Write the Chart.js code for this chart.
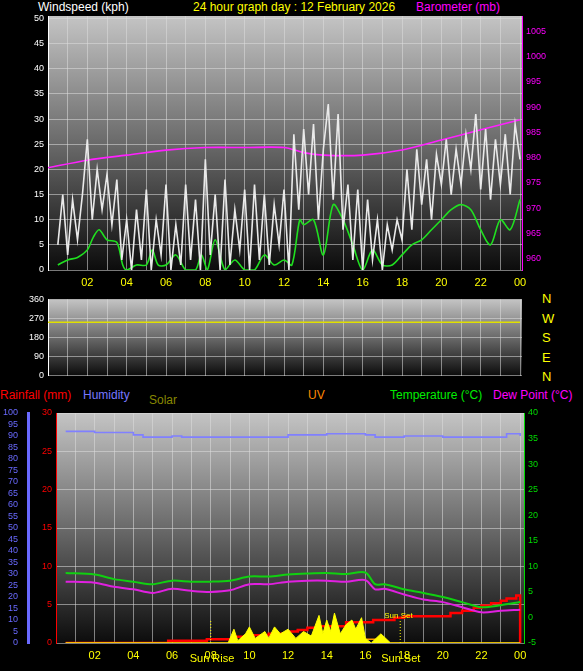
<!DOCTYPE html>
<html><head><meta charset="utf-8">
<script src="https://cdn.jsdelivr.net/npm/chart.js@4"></script>
<style>
body{margin:0;background:#000;width:583px;height:671px;overflow:hidden;font-family:"Liberation Sans",Arial,sans-serif;position:relative}
canvas{position:absolute;left:0}
.t{position:absolute;white-space:nowrap;font-size:12px}
</style></head><body>
<div class="t" style="left:38px;top:0px;color:#fff">Windspeed (kph)</div>
<div class="t" style="left:193px;top:0px;color:#ff0">24 hour graph day : 12 February 2026</div>
<div class="t" style="left:416px;top:0px;color:#f0f">Barometer (mb)</div>
<div class="t" style="left:542px;top:289px;color:#ff0;font-size:13px;line-height:19.5px">N<br>W<br>S<br>E<br>N</div>
<div class="t" style="left:0px;top:388px;color:#f00">Rainfall (mm)</div>
<div class="t" style="left:83px;top:388px;color:#77f">Humidity</div>
<div class="t" style="left:149px;top:393px;color:#880">Solar</div>
<div class="t" style="left:308px;top:388px;color:#f80">UV</div>
<div class="t" style="left:390px;top:388px;color:#0e0">Temperature (°C)</div>
<div class="t" style="left:493px;top:388px;color:#f0f">Dew Point (°C)</div>
<canvas id="c1" width="583" height="298" style="top:0"></canvas>
<canvas id="c2" width="583" height="95" style="top:290px"></canvas>
<canvas id="c3" width="583" height="286" style="top:385px"></canvas>
<script>
const hourTicks=[1,2,3,4,5,6,7,8,9,10,11,12,13,14,15,16,17,18,19,20,21,22,23,24];
const windHours=[0.5,1,1.5,2,2.3,2.6,3,3.5,3.8,4,4.5,5,5.3,5.6,6,6.5,7,7.5,7.8,8.1,8.5,9,9.5,10,10.5,11,11.5,12,12.4,12.8,13,13.5,14,14.5,15,15.5,16,16.5,17,17.5,18,18.5,19,19.5,20,20.5,21,21.5,22,22.5,23,23.5,24];
const windAvg=[1,2,2.5,4,6.5,8,6,5.5,1,0,1,1,4,1,1,3,0,0,3,0,6,0,2,0,0,3,1,2,1,10,9,10,3,13,10,5,0,4,1,1,3,5,6,8,10,12,13,12,8,5,10,8,14];
const gustStart=0.5, gustStep=0.25;
const windGust=[5,15,3,14,6,15, 26,10,20,12,19,9, 18,2,10,
0,12,2,16,0,10,3,17,0,9,1,17,2,14,0,22,3,15,0,18,1,12,4,16,0,17,2,15,1,13,5,16,0,
27,12,28,15,29,10,24,33,14,31, 8,17,2,16,0,14,2,10,0, 9,4,10,6, 20,8,24,13,22,10,23,17,
26,15,24,17,27,20,31,16,28,14,26,17,27,15,29,22];
const baroHours=[0,2,4,6,8,10,12,13,14,16,18,20,22,24];
const baro=[978,979.5,980.5,981.5,982,982,982,981,980.5,980.5,981.5,983.5,985.5,987.5];
const dirHours=[0,24];
const windDir=[252,252];
const tempHours=[0.5,2,3,4,5,6,7,8,9,10,11,12,13,14,15,16,16.5,17,18,19,20,21,22,23,24];
const temp=[8.7,8.4,7.5,7,6.5,7.2,7,7,7.2,8,8,8.4,8.6,8.7,8.5,8.8,6.5,6.5,5.5,4.8,4,3,2,2.4,3];
const dew=[7,6.8,6,5.5,4.8,5.6,5.2,5,5.3,6.5,6.5,7,7.2,7.2,7,7.3,5.5,5.6,4.5,3.5,3,2,1,1.3,1.5];
const humHours=[0.5,2,4,4.5,6,6.5,8,10,12,14,16,16.5,18,20,22,23.3,24];
const humidity=[92,91.5,90.5,89.5,90,89.5,89.5,89.5,90.5,91,90.5,89.5,90,89.5,89.5,91,90];
const rainHours=[0.5,5.8,7.8,9.3,10,11,12,12.5,13,13.5,15,16.4,17.5,18,20.4,21,21.6,22,22.5,23,23.3,23.8,23.99,24];
const rain=[0,0.3,0.5,0.8,1.0,1.2,1.5,1.7,2.0,2.2,2.7,3.0,3.3,3.5,3.9,4.2,4.6,4.9,5.2,5.5,5.8,6.2,6.2,0];
const solarHours=[0.5,8.9,9.2,9.4,9.8,10,10.3,10.8,11,11.3,11.6,12,12.4,12.8,13.2,13.6,13.8,14,14.2,14.4,14.7,15,15.3,15.5,15.8,16,16.3,16.8,17.3,24];
const solar=[0,0,60,10,40,70,20,50,20,70,40,60,20,50,30,120,40,100,50,130,40,80,100,60,110,20,0,40,0,0];
const uvHours=[0.5,10.5,11,11.5,12,12.5,13,13.5,14,14.5,15,15.5,16,16.5,24];
const uv=[0,0,0.5,0.5,0.3,0.5,0.5,0.3,0.5,0.3,0.5,0.5,0.5,0,0];
const sunRise=8.0, sunSet=17.8;

const fmtH=v=>v%2===0?String(v%24).padStart(2,'0'):'';
const F={family:'"Liberation Sans",Arial,sans-serif',size:9};
const bg={id:'bg',beforeDraw(c){const a=c.chartArea,x=c.ctx;const g=x.createLinearGradient(0,a.top,0,a.bottom);g.addColorStop(0,'#c4c4c4');g.addColorStop(0.5,'#6a6a6a');g.addColorStop(1,'#0c0c0c');x.fillStyle=g;x.fillRect(a.left,a.top,a.right-a.left,a.bottom-a.top);}};
const grid={color:'rgba(220,220,220,0.55)',borderDash:[1,2],drawTicks:false};
function xs(min,max,h,show){return {type:'linear',min,max,afterBuildTicks(s){s.ticks=hourTicks.map(v=>({value:v}))},afterFit(s){s.height=h},
 ticks:{display:show,callback:fmtH,color:'#ff0',font:{...F,size:11},autoSkip:false,maxRotation:0,padding:6},grid,border:{display:false}};}
function ys(pos,min,max,list,w,col,extra){return Object.assign({position:pos,min,max,afterBuildTicks(s){s.ticks=list.map(v=>({value:v}))},afterFit(s){s.width=w},
 ticks:{color:col,font:F,padding:4,autoSkip:false,callback:v=>String(v)},grid:{...grid,drawOnChartArea:pos==='left'},border:{display:true,color:col}},extra||{});}
const seq=(a,b,s)=>{const r=[];for(let v=a;v<=b+1e-9;v+=s)r.push(v);return r;};
const pts=(xa,ya)=>xa.map((x,i)=>({x,y:ya[i]}));
const base={responsive:false,animation:false,plugins:{legend:{display:false},tooltip:{enabled:false}},elements:{point:{radius:0}}};

new Chart(document.getElementById('c1'),{type:'line',data:{datasets:[
 {data:windGust.map((v,i)=>({x:gustStart+i*gustStep,y:v})),borderColor:'#eaeaea',borderWidth:1.6,yAxisID:'y'},
 {data:pts(windHours,windAvg),borderColor:'#20e020',borderWidth:1.6,tension:0.3,yAxisID:'y'},
 {data:pts(baroHours,baro),borderColor:'#ff20ff',borderWidth:1.6,tension:0.3,yAxisID:'y2'}]},
 options:{...base,layout:{padding:{top:16}},scales:{x:xs(0,24.1,28,true),
  y:ys('left',0,50.5,seq(0,50,5),48,'#fff'),
  y2:ys('right',957.8,1008,seq(960,1005,5),61,'#f0f')}},plugins:[bg]});

new Chart(document.getElementById('c2'),{type:'line',data:{datasets:[
 {data:pts(dirHours,windDir),borderColor:'#e0e000',borderWidth:1.5}]},
 options:{...base,layout:{padding:{top:7,bottom:7}},scales:{x:Object.assign(xs(0,24.1,0,false),{display:true}),
  y:ys('left',0,360,[0,90,180,270,360],48,'#fff'),
  y2:ys('right',0,360,[],61,'#000',{ticks:{display:false},border:{display:false}})}},plugins:[bg]});

const sun={id:'sun',afterDatasetsDraw(c){const x=c.ctx,a=c.chartArea,sx=c.scales.x;x.save();x.strokeStyle='#ff0';x.setLineDash([1,2]);
 [sunRise,sunSet].forEach(h=>{const p=sx.getPixelForValue(h);x.beginPath();x.moveTo(p,a.bottom-22);x.lineTo(p,a.bottom);x.stroke();});
 x.fillStyle='#ff0';x.font='8px "Liberation Sans",Arial';x.fillText('Sun Set',sx.getPixelForValue(sunSet)-16,a.bottom-25);
 x.font='11px "Liberation Sans",Arial';x.fillText('Sun Rise',sx.getPixelForValue(sunRise)-21,a.bottom+19);x.fillText('Sun Set',sx.getPixelForValue(sunSet)-19,a.bottom+19);x.restore();}};
new Chart(document.getElementById('c3'),{type:'line',data:{datasets:[
 {data:pts(solarHours,solar),borderColor:'#ffff00',backgroundColor:'#ffff00',fill:'origin',borderWidth:1,yAxisID:'ys'},
 {data:pts(uvHours,uv),borderColor:'#ff9900',borderWidth:1.5,stepped:true,yAxisID:'yr'},
 {data:pts(humHours,humidity),borderColor:'#8080ff',borderWidth:1.6,stepped:true,yAxisID:'yh'},
 {data:pts(tempHours,temp),borderColor:'#10d010',borderWidth:2,tension:0.3,yAxisID:'yt'},
 {data:pts(tempHours,dew),borderColor:'#e020e0',borderWidth:2,tension:0.3,yAxisID:'yt'},
 {data:pts(rainHours,rain),borderColor:'#ff0000',borderWidth:2.5,stepped:true,yAxisID:'yr'}]},
 options:{...base,layout:{padding:{top:28}},scales:{x:xs(0,24.2,28,true),
  yr:ys('left',0,30,seq(0,30,5),28,'#f00'),
  yh:ys('left',0,100,seq(0,100,5),28,'#6a6aff',{ticks:{color:'#6a6aff',font:F,padding:2,autoSkip:false},border:{display:true,color:'#6a6aff',width:3},grid:{display:false}}),
  ys:{display:false,min:0,max:1000},
  yt:ys('right',-5,40,seq(-5,40,5),59,'#0d0')}},plugins:[bg,sun]});
</script></body></html>
